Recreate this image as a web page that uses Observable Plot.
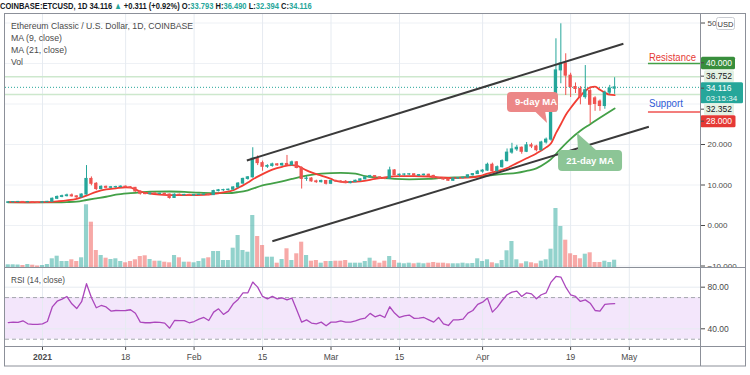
<!DOCTYPE html>
<html>
<head>
<meta charset="utf-8">
<script src="https://cdn.jsdelivr.net/npm/d3@7"></script>
<script src="https://cdn.jsdelivr.net/npm/@observablehq/plot@0.6"></script>
<style>
  html, body { margin: 0; padding: 0; background: #ffffff; }
  #chart { position: relative; width: 750px; height: 375px; overflow: hidden; background: #ffffff; }
  #chart > svg { position: absolute; left: 0; top: 0; }
</style>
</head>
<body>
<div id="chart"></div>
<script>
// ---------------- DATA ----------------
const startDate = "2020-12-25"; // first daily candle
const opens = [
 5.60,5.72,5.78,5.82,5.70,5.80,5.68,5.62,5.75,5.85,
 6.60,7.05,7.25,7.45,7.20,6.95,7.65,11.50,10.30,9.00,
 9.55,9.30,9.45,9.50,9.60,9.45,9.30,8.40,7.85,7.75,
 7.90,7.80,7.85,7.65,6.80,7.60,7.45,7.55,7.40,7.55,
 7.60,7.65,7.50,8.50,8.70,8.75,8.85,9.40,10.35,11.50,
 11.90,16.50,15.40,14.50,14.70,15.10,14.85,15.20,14.90,15.60,
 14.20,11.50,11.60,10.90,10.70,11.00,10.30,11.00,10.85,10.80,
 10.45,10.70,11.05,11.40,11.90,12.20,11.90,11.60,11.50,13.60,
 12.45,12.55,12.60,12.65,12.30,12.45,12.55,12.25,11.70,11.60,
 11.35,11.05,11.60,11.70,11.80,12.40,12.70,13.30,13.55,15.00,
 13.40,14.40,15.90,18.00,18.80,19.20,18.20,19.80,19.50,18.60,
 20.50,21.20,28.50,38.30,40.00,37.00,34.20,33.70,31.70,33.20,
 31.40,30.60,29.50,32.80,33.793];
const highs = [
 5.85,5.90,5.95,5.90,5.95,5.88,5.80,5.85,5.95,6.80,
 7.30,7.50,7.75,7.80,7.35,7.80,14.80,12.00,10.60,9.80,
 9.75,9.65,9.70,9.80,9.75,9.60,9.40,8.50,8.00,8.00,
 8.05,8.00,7.95,7.75,7.80,7.75,7.70,7.70,7.65,7.75,
 7.80,7.75,8.70,8.90,8.95,9.00,9.60,10.60,11.70,12.10,
 19.20,17.20,15.90,15.00,15.40,15.30,15.40,17.30,15.90,15.80,
 14.50,12.10,11.80,11.20,11.20,11.10,11.10,11.20,11.10,11.10,
 10.90,11.20,11.50,12.00,12.40,12.30,12.00,11.75,14.40,13.80,
 12.70,12.75,12.80,12.75,12.60,12.70,12.65,12.40,11.90,11.80,
 11.50,11.70,11.85,11.90,12.50,12.80,13.60,13.80,15.40,15.40,
 14.70,16.20,18.90,20.30,19.80,19.40,20.50,20.30,19.80,20.80,
 21.60,29.00,46.10,49.80,42.40,37.60,35.20,34.30,39.50,34.00,
 31.80,31.00,33.20,34.60,36.490];
const lows = [
 5.45,5.55,5.60,5.55,5.60,5.55,5.50,5.55,5.65,5.75,
 6.40,6.85,7.05,7.00,6.70,6.85,7.50,9.80,8.60,8.80,
 9.10,9.10,9.20,9.30,9.30,9.15,8.20,7.50,7.60,7.55,
 7.65,7.60,7.50,6.50,6.70,7.30,7.35,7.30,7.30,7.40,
 7.45,7.35,7.45,8.30,8.40,8.55,8.70,9.30,10.20,11.20,
 11.70,14.80,13.40,14.10,14.40,14.60,14.60,14.70,14.70,14.00,
 9.00,10.90,10.70,10.40,10.50,10.00,10.10,10.70,10.60,10.30,
 10.30,10.60,10.90,11.30,11.70,11.70,11.40,11.30,11.40,12.30,
 12.00,12.20,12.30,12.10,12.10,12.20,12.10,11.50,11.50,11.20,
 10.90,10.95,11.40,11.50,11.70,12.20,12.60,12.90,13.40,13.00,
 13.20,14.20,15.70,17.60,18.30,17.60,18.00,19.00,18.20,18.40,
 20.10,20.80,28.00,35.00,32.10,31.60,32.60,29.80,31.20,25.10,
 28.20,28.20,28.70,32.30,32.394];
const closes = [
 5.72,5.78,5.82,5.70,5.80,5.68,5.62,5.75,5.85,6.60,
 7.05,7.25,7.45,7.20,6.95,7.65,11.50,10.30,9.00,9.55,
 9.30,9.45,9.50,9.60,9.45,9.30,8.40,7.85,7.75,7.90,
 7.80,7.85,7.65,6.80,7.60,7.45,7.55,7.40,7.55,7.60,
 7.65,7.50,8.50,8.70,8.75,8.85,9.40,10.35,11.50,11.90,
 16.50,15.40,14.50,14.70,15.10,14.85,15.20,14.90,15.60,14.20,
 11.50,11.60,10.90,10.70,11.00,10.30,11.00,10.85,10.80,10.45,
 10.70,11.05,11.40,11.90,12.20,11.90,11.60,11.50,13.60,12.45,
 12.55,12.60,12.65,12.30,12.45,12.55,12.25,11.70,11.60,11.35,
 11.05,11.60,11.70,11.80,12.40,12.70,13.30,13.55,15.00,13.40,
 14.40,15.90,18.00,18.80,19.20,18.20,19.80,19.50,18.60,20.50,
 21.20,28.50,38.30,40.00,37.00,34.20,33.70,31.70,33.40,29.80,
 30.00,29.50,32.80,33.805,34.116];
const volumes = [
 2.7,2.7,2.5,2.0,3.0,2.3,1.5,2.0,3.0,8.7,
 11.3,6.0,6.0,7.7,6.0,9.7,62.7,45.3,17.0,12.0,
 9.3,8.0,8.7,6.0,4.7,6.0,7.7,11.0,11.7,8.0,
 6.3,6.3,5.3,4.7,12.0,9.7,5.3,5.3,4.7,6.0,
 8.7,9.7,16.0,16.0,7.0,7.0,19.3,32.0,17.0,15.3,
 52.0,31.0,22.0,10.3,10.3,4.3,8.0,18.7,7.0,13.7,
 25.3,12.0,6.3,7.0,4.3,6.0,6.0,6.3,6.3,7.0,
 4.3,4.3,4.3,6.0,9.3,6.3,4.3,6.3,11.0,7.0,
 4.3,3.7,4.3,3.7,4.3,3.7,4.3,5.0,4.3,4.3,
 3.7,3.7,3.7,4.3,3.7,4.0,8.7,6.0,7.7,4.7,
 3.7,7.0,16.7,26.0,7.7,3.7,5.7,4.7,3.7,6.3,
 7.7,18.3,59.0,41.0,27.3,13.7,12.0,8.7,13.3,14.7,
 5.0,5.0,6.3,5.0,7.3];
const rsiValues = [
 46.0,46.4,46.2,47.7,44.8,44.2,44.2,44.8,47.0,61.0,
 66.5,68.5,71.0,64.0,59.5,66.0,83.3,70.0,60.2,62.4,
 61.0,57.0,57.6,57.5,57.6,58.3,55.0,46.4,45.8,45.8,
 46.4,46.2,45.5,40.6,48.0,47.8,47.8,45.8,47.0,49.3,
 50.9,48.0,56.0,59.2,53.8,57.0,64.0,68.2,74.6,74.6,
 84.9,80.0,71.1,68.8,71.1,68.8,69.8,67.8,69.5,58.0,
 46.4,48.6,45.5,44.8,46.4,42.9,46.4,46.4,47.7,46.4,
 46.4,47.7,49.3,50.3,54.8,51.5,53.2,50.9,61.2,55.1,
 50.9,52.5,53.2,50.0,50.3,50.9,48.6,46.4,50.9,44.8,
 43.2,48.6,48.6,49.3,55.0,57.6,63.5,65.6,69.5,56.0,
 60.8,67.2,72.7,75.3,76.2,71.1,74.6,73.6,68.8,72.7,
 74.6,84.9,90.3,89.7,80.1,72.7,71.1,66.3,67.8,64.6,
 57.6,57.0,63.4,64.0,64.2];
// moving averages (day offset from startDate, value)
const ma9Days = [0,4,8,10,12,14,16,18,20,22,24,25,26,27,29,31,34,37,40,42,44,46,47,48,49,50,52,54,56,58,59,60,61,62,64,66,67,69,72,75,77,80,83,86,88,91,94,97,98,100,102,104,106,108,110,111,112,113,114,115,116,117,118,119,120,121,122,123,124];
const ma9Values = [5.75,5.72,5.75,5.95,6.2,6.6,7.4,8.3,8.9,9.2,9.45,9.35,8.9,8.4,7.9,7.65,7.5,7.5,7.55,7.8,8.2,8.7,9.3,9.9,10.6,11.4,12.7,13.8,14.5,14.9,14.8,14.2,13.6,13.1,12.3,11.5,11.0,10.7,10.9,11.5,11.9,12.2,12.2,12.1,11.9,11.7,11.8,12.4,12.8,13.4,14.2,15.4,16.6,17.8,19.3,20.3,22.8,25.0,27.3,29.0,30.6,32.0,33.2,34.1,34.3,33.5,32.8,32.3,32.2];
const ma21Days = [0,6,10,12,14,16,18,20,22,25,27,29,33,36,39,42,45,47,49,52,56,58,61,64,68,71,73,76,79,82,86,88,92,95,98,101,104,106,108,110,111,113,115,117,119,121,124];
const ma21Values = [5.70,5.70,5.72,5.78,5.9,6.3,6.7,7.1,7.6,8.0,8.2,8.35,8.4,8.3,8.1,8.0,8.0,8.25,8.7,9.9,10.9,11.5,12.3,12.8,13.0,12.8,12.2,11.8,11.5,11.4,11.5,11.7,11.9,12.0,12.3,12.7,13.0,13.5,14.1,15.5,16.4,19.0,21.4,23.4,25.0,26.6,28.9];
// axes
const timeTicks = ["2021-01-01","2021-01-18","2021-02-01","2021-02-15","2021-03-01","2021-03-15","2021-04-01","2021-04-19","2021-05-01"];
const timeTickLabels = ["2021","18","Feb","15","Mar","15","Apr","19","May"];
const priceTicks = [50, 20, 10, 0, -10];
const priceGrid = [-10, 0, 10, 20, 30, 40, 50];
const rsiTicks = [80, 40];
const rsiBand = [30, 70];
// drawn annotations (date, price)
const trendStart = ["2021-02-11T19:00:00Z", "2021-02-17T00:00:00Z"];
const trendStartPrice = [16.05, -3.9];
const trendEnd = ["2021-04-29T19:00:00Z", "2021-05-05T00:00:00Z"];
const trendEndPrice = [44.9, 24.4];
const resistanceLevel = 40;
const supportLevel = 28;
const levelLineStart = "2021-05-04T22:00:00Z";
const markedLevels = [36.752, 32.352];
const lastPrice = 34.116;
const countdown = "03:15:34";
const axisLevels = [40, 36.752, 34.116, 32.352, 28];
const calloutLabels = ["9-day MA", "21-day MA"];
const calloutDates = ["2021-04-14T06:30:00Z", "2021-04-20T10:00:00Z"];
const calloutPrices = [25.2, 22.7];

// ---------------- CHART ----------------
const FONT = '"Liberation Sans", Arial, sans-serif';
const W = 750, H = 375, DAY = 864e5;
const teal = "#26a69a", red = "#ef5350";
const xDomain = [new Date("2020-12-24T10:25:00Z"), new Date("2021-05-15T13:26:00Z")];
const priceDomain = [-10.37, 52.35];
const rsiDomain = [23, 98.9];
const day0 = new Date(startDate + "T00:00:00Z");

const candles = closes.map((c, i) => ({
  date: d3.utcDay.offset(day0, i), open: opens[i], high: highs[i], low: lows[i], close: c,
  volume: volumes[i], rsi: rsiValues[i]
}));
const dir = d => d.close >= d.open ? teal : red;
const ma9 = ma9Days.map((k, i) => ({date: d3.utcDay.offset(day0, k), value: ma9Values[i]}));
const ma21 = ma21Days.map((k, i) => ({date: d3.utcDay.offset(day0, k), value: ma21Values[i]}));
const tickDates = timeTicks.map(s => new Date(s + "T00:00:00Z"));
const tickLabel = new Map(tickDates.map((d, i) => [+d, timeTickLabels[i]]));
const trends = trendStart.map((s, i) => ({x1: new Date(s), y1: trendStartPrice[i], x2: new Date(trendEnd[i]), y2: trendEndPrice[i]}));
const lvlStart = new Date(levelLineStart);
const f3 = d3.format(".3f");
// the top price label is mostly hidden behind the currency box, as in the reference
const priceTickFormat = d => d === priceTicks[0] ? String(d) : f3(d);

const container = document.getElementById("chart");
const baseStyle = `position:absolute;left:0;top:0;background:transparent;overflow:visible;font-family:${FONT};color:#4a4a4a;`;
const frame = (top, bottom) => ({width: W, height: H, marginLeft: 5, marginRight: 50, marginTop: top, marginBottom: H - bottom});
const xHidden = {type: "utc", domain: xDomain, axis: null};

const gridPlot = Plot.plot({
  ...frame(13, 267), style: baseStyle,
  x: xHidden, y: {domain: priceDomain, axis: null},
  marks: [
    Plot.ruleY(priceGrid, {stroke: "#eef1f5"}),
    Plot.ruleX(tickDates, {stroke: "#e6ebf1"})
  ]
});

const volPlot = Plot.plot({
  ...frame(13, 267), style: baseStyle,
  x: xHidden, y: {domain: [0, 254], axis: null},
  marks: [
    Plot.rect(candles, {
      x1: d => new Date(+d.date - 0.42 * DAY), x2: d => new Date(+d.date + 0.42 * DAY),
      y1: 0, y2: "volume", fill: dir, fillOpacity: 0.5
    })
  ]
});

const pricePlot = Plot.plot({
  ...frame(13, 267), style: baseStyle + "font-size:8px;",
  x: xHidden,
  y: {domain: priceDomain, axis: "right", ticks: priceTicks, tickFormat: priceTickFormat, tickSize: 4, tickPadding: 3, label: null},
  marks: [
    Plot.ruleY(markedLevels, {stroke: "#cde8cd", strokeWidth: 1.5}),
    Plot.ruleY([lastPrice], {stroke: teal, strokeDasharray: "1,2"}),
    Plot.line(ma21, {x: "date", y: "value", stroke: "#43a047", strokeWidth: 1.8, curve: "monotone-x"}),
    Plot.line(ma9, {x: "date", y: "value", stroke: "#f23d33", strokeWidth: 1.8, curve: "monotone-x"}),
    Plot.ruleX(candles, {x: "date", y1: "low", y2: "high", stroke: dir, strokeWidth: 1, ariaLabel: "wicks"}),
    Plot.rect(candles, {
      x1: d => new Date(+d.date - 0.34 * DAY), x2: d => new Date(+d.date + 0.34 * DAY),
      y1: "open", y2: "close", fill: dir, insetTop: -0.5, insetBottom: -0.5
    }),
    Plot.link(trends, {x1: "x1", y1: "y1", x2: "x2", y2: "y2", stroke: "#3a3a3a", strokeWidth: 2}),
    Plot.ruleY([resistanceLevel], {x1: () => lvlStart, x2: () => xDomain[1], stroke: "#43a047", strokeWidth: 1.5}),
    Plot.ruleY([supportLevel], {x1: () => lvlStart, x2: () => xDomain[1], stroke: "#ef5350", strokeWidth: 1.5})
  ]
});

const rsiPlot = Plot.plot({
  ...frame(267, 346), style: baseStyle + "font-size:8.5px;",
  x: {type: "utc", domain: xDomain, ticks: tickDates, tickFormat: d => tickLabel.get(+d), tickSize: 4, tickPadding: 3, label: null},
  y: {domain: rsiDomain, axis: "right", ticks: rsiTicks, tickFormat: d3.format(".2f"), tickSize: 4, tickPadding: 3, label: null},
  marks: [
    Plot.rect([rsiBand], {x1: () => xDomain[0], x2: () => xDomain[1], y1: d => d[0], y2: d => d[1], fill: "#f3e6fb"}),
    Plot.ruleX(tickDates, {stroke: "#e6ebf1"}),
    Plot.ruleY(rsiTicks, {stroke: "#e6ebf1"}),
    Plot.ruleY(rsiBand, {stroke: "#a3a6ad", strokeDasharray: "4,3"}),
    Plot.line(candles, {x: "date", y: "rsi", stroke: "#ab47bc", strokeWidth: 1.3})
  ]
});

[gridPlot, volPlot, pricePlot, rsiPlot].forEach(p => container.appendChild(p));
d3.select(rsiPlot).selectAll("text").filter(function() { return this.textContent === "2021"; }).attr("font-weight", "bold");

// scales of the price pane
const sx = pricePlot.scale("x"), sy = pricePlot.scale("y");
const X = v => sx.apply(v), Y = v => sy.apply(v);

function txt(g, x, y, s, o = {}) {
  const t = g.append("text").attr("x", x).attr("y", y).text(s)
    .attr("font-family", FONT).attr("font-size", o.size || 9).attr("fill", o.fill || "#4a4a4a")
    .attr("font-weight", o.weight || "normal").attr("text-anchor", o.anchor || "start");
  if (o.len) t.attr("textLength", o.len).attr("lengthAdjust", "spacingAndGlyphs");
  return t;
}

// callouts (below candles)
const wicks = pricePlot.querySelector('g[aria-label="wicks"]');
const cg = document.createElementNS("http://www.w3.org/2000/svg", "g");
pricePlot.insertBefore(cg, wicks);
const cgs = d3.select(cg);
{
  const tx = X(new Date(calloutDates[0])), ty = Y(calloutPrices[0]);
  cgs.append("path").attr("d", `M${tx - 13},${ty - 12.5}L${tx - 2},${ty - 12.5}L${tx},${ty}Z`).attr("fill", "#ec8787");
  cgs.append("rect").attr("x", tx - 40).attr("y", ty - 31).attr("width", 51).attr("height", 20).attr("rx", 4).attr("fill", "#ec8787");
  txt(cgs, tx - 11, ty - 17.5, calloutLabels[0], {size: 9.5, weight: "bold", fill: "#ffffff", anchor: "middle"});
}
{
  const tx = X(new Date(calloutDates[1])), ty = Y(calloutPrices[1]);
  cgs.append("path").attr("d", `M${tx + 1},${ty + 18}L${tx + 20},${ty + 18}L${tx},${ty}Z`).attr("fill", "#8cc596");
  cgs.append("rect").attr("x", tx - 19).attr("y", ty + 17).attr("width", 64).attr("height", 21).attr("rx", 4).attr("fill", "#8cc596");
  txt(cgs, tx + 13, ty + 31, calloutLabels[1], {size: 9.5, weight: "bold", fill: "#ffffff", anchor: "middle"});
}

// overlay
const ov = d3.select(container).append("svg").attr("width", W).attr("height", H);
const dark = "#131722";
const n = closes.length - 1;
const chg = closes[n] - closes[n - 1];
const hdrParts = [
  ["COINBASE:ETCUSD, 1D ", dark],
  [f3(closes[n]) + " ", dark],
  ["▲ ", teal],
  [`+${f3(chg)} (+${(chg / closes[n - 1] * 100).toFixed(2)}%) `, dark],
  ["O:", dark], [f3(opens[n]) + " ", teal],
  ["H:", dark], [f3(highs[n]) + " ", teal],
  ["L:", dark], [f3(lows[n]) + " ", teal],
  ["C:", dark], [f3(closes[n]), teal]
];
const hg = ov.append("g");
const hdrText = hg.append("text").attr("x", 0).attr("y", 8.5).attr("font-family", FONT)
  .attr("font-size", 9.5).attr("font-weight", "bold");
hdrParts.forEach(([s, fill]) => hdrText.append("tspan").attr("fill", fill).text(s));
const natural = hdrText.node().getComputedTextLength() || 440;
hg.attr("transform", `scale(${312 / natural},1)`);

txt(ov, 11, 29, "Ethereum Classic / U.S. Dollar, 1D, COINBASE", {size: 9, len: 182});
txt(ov, 11, 41, "MA (9, close)", {size: 9, len: 51});
txt(ov, 11, 53, "MA (21, close)", {size: 9, len: 56});
txt(ov, 11, 64.5, "Vol", {size: 9, len: 12});
txt(ov, 11, 283, "RSI (14, close)", {size: 9, len: 54});

// Resistance / Support text
txt(ov, X(lvlStart) + 1, Y(resistanceLevel) - 2, "Resistance", {size: 10, fill: "#e53935", len: 47});
txt(ov, X(lvlStart) + 1, Y(supportLevel) - 5, "Support", {size: 10, fill: "#2e5bd6", len: 34});

// hide part of the bottom price label under the pane border
ov.append("rect").attr("x", 701).attr("y", 267.5).attr("width", 44).attr("height", 4).attr("fill", "#ffffff");

// price-axis boxes
const boxStyles = [
  {bg: "#388e3c", fg: "#ffffff", h: 12.5, x: 701, w: 34},
  {bg: "#e3f1e3", fg: dark, h: 12, x: 704, w: 30},
  {bg: teal, fg: "#ffffff", h: 21, x: 700.5, w: 42.5, sub: countdown},
  {bg: "#e3f1e3", fg: dark, h: 12, x: 704, w: 30},
  {bg: "#e53935", fg: "#ffffff", h: 12, x: 700.5, w: 35}
];
let prevBottom = -Infinity;
axisLevels.forEach((v, i) => {
  const st = boxStyles[i];
  const cy = Y(v);
  let top = st.sub ? cy - 6 : cy - st.h / 2;
  top = Math.max(top, prevBottom);
  prevBottom = top + st.h;
  ov.append("rect").attr("x", st.x).attr("y", top).attr("width", st.w).attr("height", st.h).attr("rx", 1.5).attr("fill", st.bg);
  ov.append("line").attr("x1", 700).attr("x2", 704).attr("y1", top + 6).attr("y2", top + 6).attr("stroke", "#4a4a4a");
  txt(ov, 706, top + 9, f3(v), {size: 8.5, fill: st.fg});
  if (st.sub) txt(ov, 706, top + 19, st.sub, {size: 8, fill: "#e8f7f5"});
});

// USD box
ov.append("rect").attr("x", 716.5).attr("y", 17.5).attr("width", 18).attr("height", 12).attr("rx", 2)
  .attr("fill", "#ffffff").attr("stroke", "#c9ccd2");
txt(ov, 725.5, 26.5, "USD", {size: 7.5, fill: "#333", anchor: "middle"});

// frame
const fc = "#8c9099";
ov.append("rect").attr("x", 4.5).attr("y", 13.5).attr("width", 741).attr("height", 352.5).attr("fill", "none").attr("stroke", fc);
ov.append("line").attr("x1", 700.5).attr("x2", 700.5).attr("y1", 13.5).attr("y2", 366).attr("stroke", fc);
ov.append("line").attr("x1", 4.5).attr("x2", 745.5).attr("y1", 267.5).attr("y2", 267.5).attr("stroke", fc);
ov.append("line").attr("x1", 4.5).attr("x2", 745.5).attr("y1", 346.5).attr("y2", 346.5).attr("stroke", fc);
</script>
</body>
</html>
